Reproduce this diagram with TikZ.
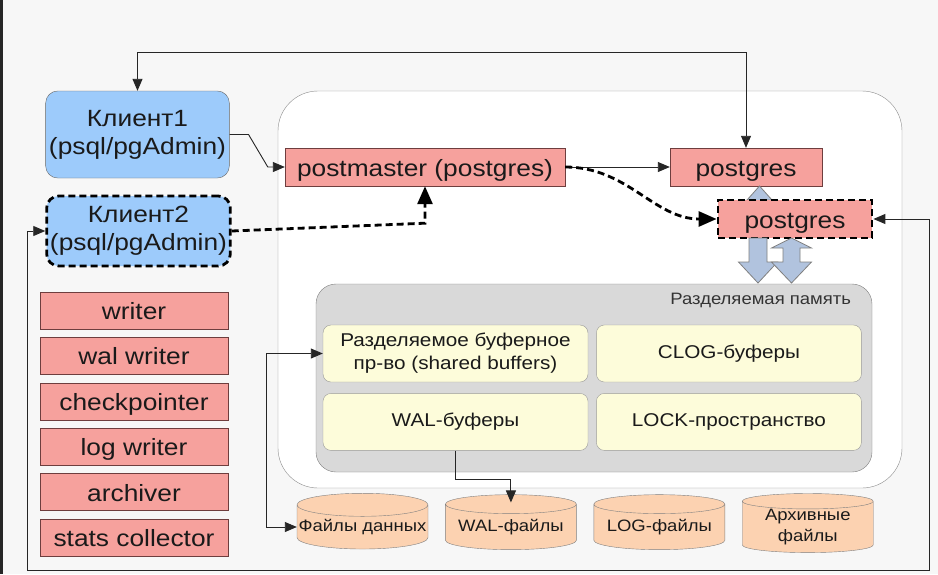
\documentclass[tikz,border=0pt]{standalone}
\usepackage{fontspec}
\setmainfont{Liberation Sans}[FakeStretch=1.12]
\usetikzlibrary{arrows.meta,calc,positioning,shapes.geometric}

\definecolor{bgcol}{HTML}{F7F7F7}
\definecolor{clientblue}{HTML}{9DCBFB}
\definecolor{procred}{HTML}{F6A19D}
\definecolor{procline}{HTML}{6E3E3E}
\definecolor{memgray}{HTML}{D9D9D9}
\definecolor{bufyellow}{HTML}{FDFCDA}
\definecolor{filepeach}{HTML}{FCD2B1}
\definecolor{blockblue}{HTML}{B1C3DE}
\definecolor{textcol}{HTML}{1A1A1A}

\newcommand{\bigfont}{\fontsize{23.5}{28}\selectfont}
\newcommand{\midfont}{\fontsize{18.5}{23}\selectfont}
\newcommand{\smallfont}{\fontsize{16.5}{21}\selectfont}

\tikzset{client/.style={
    % The shape:
    rectangle,rounded corners=12pt,
    % The size:
    minimum width=181pt,
    minimum height=87pt,
    % The border and filling:
    draw=gray!80!black,
    fill=clientblue,
    align=center,
    text=textcol,
    font=\bigfont
    },
    process/.style={
    rectangle,
    minimum height=38pt,
    text height=21pt,
    text depth=3pt,
    draw=procline,
    fill=procred,
    text=textcol,
    font=\bigfont
    },
    helper/.style={
    process,
    minimum width=188pt,
    minimum height=37pt,
    },
    serverbox/.style={
    rectangle,rounded corners=40pt,
    draw=gray!90,
    fill=white,
    },
    memarea/.style={
    rectangle,rounded corners=20pt,
    draw=gray,
    fill=memgray,
    },
    bufbox/.style={
    rectangle,rounded corners=8pt,
    minimum width=265pt,
    minimum height=57pt,
    draw=gray!80,
    fill=bufyellow,
    align=center,
    text=textcol,
    font=\midfont
    },
    datafile/.style={
    cylinder,shape border rotate=90,shape aspect=0.18,
    minimum width=131pt,
    minimum height=55pt,
    inner sep=0pt,
    draw=gray,
    fill=filepeach,
    align=center,
    text=textcol,
    font=\smallfont
    },
    conn/.style={draw=black!85,line width=0.9pt,
    arrows={-Triangle[length=12pt,width=10pt]}},
    dconn/.style={draw=black,line width=2.8pt,dash pattern=on 7pt off 4pt,
    arrows={-Triangle[length=18pt,width=15pt]}},
    blockarrow/.style={draw=gray,line width=0.8pt,fill=blockblue},
}

\begin{document}
\begin{tikzpicture}[x=1pt,y=-1pt,node distance=8pt and 17pt]
    \fill[bgcol] (0,0) rectangle (938,574);
    \useasboundingbox (0,0) rectangle (938,574);
    \fill[black!85] (0,0) rectangle (2.5,574);

    % server and shared memory
    \node (server) [serverbox,minimum width=624pt,minimum height=397pt] at (590,289.5) {};
    \node (shmem)  [memarea,minimum width=556pt,minimum height=188pt] at (594,378) {};
    \node (memlabel) [anchor=north east,inner sep=0pt,text=black!80,font=\smallfont]
        at ($(shmem.north east)+(-21,9)$) {Разделяемая память};

    % clients
    \node (client1) [client] at (137.5,134.5) {Клиент1\\(psql/pgAdmin)};
    \node (client2) [client,minimum width=183pt,minimum height=70pt,
        line width=2.8pt,draw=black,dash pattern=on 7pt off 4pt] at (138.5,231) {Клиент2\\(psql/pgAdmin)};

    % backend processes
    \node (pmaster)  [process,minimum width=280pt] at (425,167) {postmaster (postgres)};
    \node (pgfirst)  [process,minimum width=152pt] at (746,167) {postgres};
    \draw[blockarrow] (759.5,186) -- (772,200) -- (766,200) -- (766,225)
        -- (753,225) -- (753,200) -- (747,200) -- cycle;
    \node (pgsecond) [process,minimum width=154pt,line width=2.8pt,draw=black,
        dash pattern=on 7pt off 4pt] at (795,219) {postgres};

    % helper processes
    \node (writer)    [helper] at (134,310.5) {writer};
    \node (walwriter) [helper,below=of writer]    {wal writer};
    \node (ckpt)      [helper,below=of walwriter] {checkpointer};
    \node (logwriter) [helper,below=of ckpt]      {log writer};
    \node (archiver)  [helper,below=of logwriter] {archiver};
    \node (stats)     [helper,below=of archiver]  {stats collector};

    % shared memory parts
    \node (shbuf)     [bufbox] at (455.5,353.5) {Разделяемое буферное\\пр-во (shared buffers)};
    \node (clogbuf)   [bufbox,right=8pt of shbuf]  {CLOG-буферы};
    \node (walbuf)    [bufbox,below=11pt of shbuf] {WAL-буферы};
    \node (lockspace) [bufbox,right=8pt of walbuf] {LOCK-пространство};

    % files
    \node (datafiles) [datafile] at (362.5,527) {\strut Файлы данных};
    \node (walfiles)  [datafile,right=of datafiles] {\strut WAL-файлы};
    \node (logfiles)  [datafile,right=of walfiles]  {\strut LOG-файлы};
    \node (archfiles) [datafile,right=of logfiles]  {Архивные\\файлы};

    % block arrows to shared memory
    \draw[blockarrow] (749,238) -- (767,238) -- (767,262) -- (777.5,262) -- (758,283)
        -- (738.5,262) -- (749,262) -- cycle;
    \draw[blockarrow] (791.5,238) -- (811.5,248) -- (800,248) -- (800,262) -- (811.5,262)
        -- (791.5,283) -- (771.5,262) -- (783,262) -- (783,248) -- (771.5,248) -- cycle;

    % connectors
    \coordinate (loopbl) at (27,570);
    \coordinate (looptr) at ($(pgsecond.east)+(56,0)$);
    \draw[conn,{Triangle[length=12pt,width=10pt]}-{Triangle[length=12pt,width=10pt]}]
        (client1.north) |- ($(pgfirst.north)+(0,-95)$) -- (pgfirst.north);
    \draw[conn] (client1.east) -- ++(19,0) -- ($(pmaster.west)+(-17,0)$) -- (pmaster.west);
    \draw[dconn] (client2.east) -- ($(pmaster.south)+(0,37)$) -- (pmaster.south);
    \draw[conn] (pmaster.east) -- (pgfirst.west);
    \draw[dconn] (pmaster.east) to[out=0,in=180] (pgsecond.west);
    \draw[conn,{Triangle[length=12pt,width=10pt]}-{Triangle[length=12pt,width=10pt]}]
        (client2.west) -| (loopbl) -| (looptr) -- (pgsecond.east);
    \draw[conn] (walbuf.south) -- ++(0,29) -| ($(walfiles.north)+(0,8)$);
    \draw[conn,{Triangle[length=12pt,width=10pt]}-{Triangle[length=12pt,width=10pt]}]
        (shbuf.west) -- ++(-56,0) |- (datafiles.west);
\end{tikzpicture}
\end{document}
